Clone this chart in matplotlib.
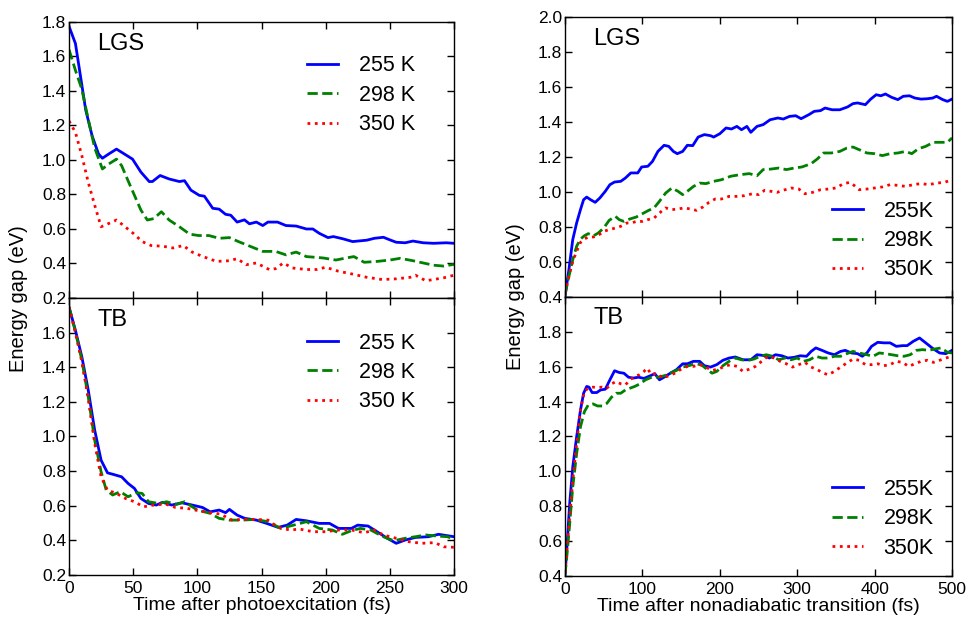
import matplotlib
matplotlib.use("Agg")
import matplotlib.pyplot as plt

plt.rcParams['font.family'] = ['Liberation Sans', 'DejaVu Sans']

# ---- data: left column (time after photoexcitation, fs) ----
labels_left = ["255 K", "298 K", "350 K"]
labels_right = ["255K", "298K", "350K"]

# LGS, left
t_lgs_255 = [0, 5, 13, 18, 23, 26, 31, 37, 42, 49.5, 56, 62.5, 65, 71, 78, 86, 90, 95, 101.5, 105.5,
             112, 117, 122, 126, 131, 136.7, 140.6, 146, 151, 155, 162.5, 169, 177, 185, 190, 195,
             201.8, 206, 213.5, 221, 232, 238, 245, 250, 255, 262, 268, 276, 284, 294, 300]
e_lgs_255 = [1.775, 1.675, 1.29, 1.14, 1.035, 1.01, 1.035, 1.063, 1.04, 1.005, 0.93, 0.875, 0.875,
             0.91, 0.89, 0.875, 0.88, 0.825, 0.795, 0.79, 0.72, 0.715, 0.685, 0.68, 0.64, 0.653, 0.63,
             0.64, 0.62, 0.64, 0.64, 0.62, 0.617, 0.6, 0.6, 0.575, 0.55, 0.556, 0.543, 0.527, 0.535,
             0.546, 0.552, 0.537, 0.523, 0.52, 0.53, 0.52, 0.517, 0.52, 0.517]
t_lgs_298 = [0, 5, 10, 15, 20, 26, 31, 37, 41, 46, 51, 56, 61, 66, 72, 78, 86, 94, 101, 109, 117, 125,
             132, 141, 151, 161, 169, 177, 185, 198, 208, 216, 222, 230, 240, 250, 258, 268, 276, 284,
             292, 300]
e_lgs_298 = [1.64, 1.52, 1.41, 1.235, 1.07, 0.948, 0.977, 1.005, 0.967, 0.88, 0.795, 0.71, 0.652,
             0.66, 0.70, 0.652, 0.613, 0.57, 0.562, 0.562, 0.546, 0.55, 0.527, 0.5, 0.47, 0.47, 0.45,
             0.466, 0.44, 0.432, 0.42, 0.432, 0.44, 0.407, 0.412, 0.42, 0.43, 0.416, 0.403, 0.39,
             0.385, 0.395]
t_lgs_350 = [0, 5, 10, 15, 20, 25, 31, 37, 42, 50, 57, 64, 73, 81, 89, 96, 104, 115, 125, 131, 138,
             146, 156, 161, 167, 174, 185, 193, 200, 210, 220, 232, 244, 255, 266, 270, 278, 284, 292,
             300]
e_lgs_350 = [1.226, 1.16, 1.025, 0.87, 0.738, 0.613, 0.632, 0.652, 0.623, 0.575, 0.527, 0.504, 0.5,
             0.49, 0.504, 0.466, 0.441, 0.412, 0.416, 0.428, 0.393, 0.403, 0.365, 0.37, 0.403, 0.374,
             0.365, 0.365, 0.378, 0.355, 0.34, 0.32, 0.307, 0.311, 0.32, 0.332, 0.30, 0.307, 0.317,
             0.332]

# TB, left
t_tb_255 = [0, 5, 10, 15, 20, 25, 30, 35, 41, 46, 51, 56, 62, 68, 73, 80, 88, 96, 104, 110, 117, 122,
            125, 131, 137, 146, 154, 163, 170, 177, 185, 195, 203, 210, 220, 225, 233, 240, 248, 255,
            262, 270, 280, 288, 300]
e_tb_255 = [1.748, 1.613, 1.46, 1.267, 1.037, 0.863, 0.79, 0.78, 0.767, 0.729, 0.70, 0.642, 0.613,
            0.604, 0.62, 0.604, 0.617, 0.604, 0.59, 0.565, 0.575, 0.56, 0.579, 0.546, 0.527, 0.517,
            0.498, 0.475, 0.488, 0.521, 0.513, 0.498, 0.498, 0.469, 0.469, 0.488, 0.483, 0.45, 0.412,
            0.383, 0.402, 0.417, 0.421, 0.435, 0.421]
t_tb_298 = [0, 5, 10, 15, 20, 25, 29, 34, 40, 46, 53, 57, 62, 70, 76, 84, 90, 100, 110, 117, 125, 135,
            145, 155, 165, 175, 185, 195, 205, 213, 220, 227, 235, 245, 253, 262, 270, 278, 287, 295,
            300]
e_tb_298 = [1.748, 1.604, 1.44, 1.229, 0.979, 0.796, 0.69, 0.662, 0.681, 0.652, 0.675, 0.671, 0.623,
            0.613, 0.623, 0.608, 0.623, 0.575, 0.556, 0.527, 0.517, 0.517, 0.521, 0.508, 0.469, 0.488,
            0.508, 0.469, 0.46, 0.435, 0.456, 0.469, 0.46, 0.421, 0.398, 0.412, 0.421, 0.431, 0.425,
            0.421, 0.406]
t_tb_350 = [0, 5, 10, 15, 20, 25, 30, 37, 44, 51, 58, 66, 75, 83, 92, 101, 110, 118, 127, 135, 145,
            155, 163, 172, 180, 190, 200, 210, 220, 230, 238, 245, 255, 265, 275, 285, 292, 300]
e_tb_350 = [1.748, 1.60, 1.43, 1.22, 0.96, 0.767, 0.69, 0.671, 0.642, 0.623, 0.594, 0.604, 0.61, 0.59,
            0.585, 0.571, 0.56, 0.552, 0.517, 0.521, 0.521, 0.517, 0.475, 0.46, 0.465, 0.45, 0.45,
            0.46, 0.46, 0.444, 0.46, 0.431, 0.412, 0.392, 0.383, 0.387, 0.363, 0.36]

# ---- data: right column (time after nonadiabatic transition, fs) ----
t_lgs2_255 = [0, 5, 10, 15, 20, 24, 28, 33, 39, 45, 52, 58, 64, 72, 78, 85, 94, 99, 107, 113, 120, 128,
              134, 140, 145, 152, 158, 165, 172, 180, 188, 192, 200, 208, 215, 222, 228, 235, 240, 248,
              256, 265, 275, 282, 290, 298, 305, 315, 322, 330, 336, 345, 355, 365, 372, 378, 388, 395,
              402, 408, 414, 422, 430, 437, 445, 452, 460, 468, 475, 480, 488, 494, 500]
e_lgs2_255 = [0.404, 0.556, 0.728, 0.823, 0.90, 0.956, 0.971, 0.956, 0.941, 0.966, 1.004, 1.042, 1.057,
              1.061, 1.08, 1.109, 1.109, 1.143, 1.147, 1.175, 1.232, 1.267, 1.261, 1.232, 1.219, 1.232,
              1.267, 1.265, 1.314, 1.328, 1.322, 1.314, 1.333, 1.366, 1.36, 1.375, 1.356, 1.375, 1.341,
              1.375, 1.385, 1.413, 1.423, 1.417, 1.432, 1.436, 1.419, 1.442, 1.461, 1.465, 1.48, 1.47,
              1.47, 1.486, 1.505, 1.509, 1.499, 1.531, 1.556, 1.55, 1.56, 1.541, 1.528, 1.547, 1.55,
              1.537, 1.531, 1.533, 1.537, 1.547, 1.528, 1.518, 1.531]
t_lgs2_298 = [0, 5, 10, 15, 20, 25, 30, 37, 43, 50, 57, 65, 70, 76, 84, 92, 100, 108, 115, 122, 130,
              138, 146, 152, 158, 166, 174, 182, 192, 202, 214, 226, 238, 248, 256, 266, 276, 286, 296,
              306, 318, 326, 334, 344, 355, 364, 372, 380, 390, 400, 410, 420, 430, 440, 448, 456, 466,
              476, 486, 494, 500]
e_lgs2_298 = [0.413, 0.518, 0.613, 0.69, 0.731, 0.75, 0.762, 0.75, 0.766, 0.794, 0.838, 0.861, 0.842,
              0.832, 0.846, 0.857, 0.876, 0.895, 0.909, 0.947, 0.994, 1.023, 1.004, 0.985, 1.004, 1.032,
              1.051, 1.048, 1.061, 1.07, 1.09, 1.099, 1.105, 1.093, 1.128, 1.131, 1.137, 1.128, 1.137,
              1.143, 1.162, 1.189, 1.223, 1.223, 1.232, 1.251, 1.257, 1.242, 1.223, 1.219, 1.208,
              1.219, 1.223, 1.232, 1.219, 1.246, 1.261, 1.284, 1.284, 1.284, 1.309]
t_lgs2_350 = [0, 5, 10, 15, 20, 25, 30, 37, 44, 50, 57, 65, 72, 80, 86, 92, 100, 107, 115, 122, 130,
              138, 146, 154, 162, 170, 178, 186, 194, 202, 212, 222, 232, 242, 250, 258, 266, 274, 282,
              292, 302, 310, 320, 330, 340, 350, 360, 368, 374, 380, 390, 400, 410, 420, 430, 440, 450,
              460, 470, 480, 490, 500]
e_lgs2_350 = [0.423, 0.518, 0.604, 0.661, 0.712, 0.731, 0.743, 0.743, 0.756, 0.775, 0.785, 0.794,
              0.804, 0.823, 0.823, 0.832, 0.832, 0.842, 0.851, 0.88, 0.909, 0.899, 0.903, 0.909, 0.903,
              0.895, 0.914, 0.941, 0.96, 0.96, 0.975, 0.975, 0.979, 0.99, 0.985, 1.01, 1.004, 0.998,
              1.01, 1.023, 1.017, 0.99, 0.998, 1.013, 1.017, 1.023, 1.048, 1.055, 1.036, 1.013, 1.017,
              1.023, 1.029, 1.042, 1.038, 1.032, 1.042, 1.048, 1.042, 1.051, 1.055, 1.07]

t_tb2_255 = [0, 3, 6, 10, 15, 20, 24, 28, 31, 35, 41, 46, 52, 58, 64, 70, 76, 82, 88, 95, 102, 110,
             116, 122, 128, 136, 144, 152, 158, 166, 174, 180, 188, 196, 204, 212, 220, 230, 240, 248,
             256, 264, 272, 280, 288, 296, 304, 312, 318, 324, 332, 340, 348, 356, 362, 370, 378, 384,
             390, 396, 404, 412, 420, 428, 436, 442, 450, 458, 466, 476, 484, 492, 500]
e_tb2_255 = [0.41, 0.602, 0.813, 1.025, 1.198, 1.352, 1.448, 1.487, 1.483, 1.452, 1.452, 1.467, 1.471,
             1.525, 1.577, 1.567, 1.563, 1.54, 1.535, 1.54, 1.533, 1.548, 1.56, 1.525, 1.54, 1.563,
             1.583, 1.617, 1.617, 1.631, 1.631, 1.606, 1.598, 1.612, 1.637, 1.65, 1.656, 1.64, 1.64,
             1.669, 1.665, 1.65, 1.669, 1.663, 1.65, 1.654, 1.663, 1.66, 1.688, 1.708, 1.694, 1.679,
             1.669, 1.688, 1.694, 1.679, 1.675, 1.66, 1.679, 1.717, 1.74, 1.737, 1.737, 1.717, 1.721,
             1.721, 1.746, 1.765, 1.737, 1.702, 1.679, 1.675, 1.694]
t_tb2_298 = [0, 3, 6, 10, 15, 20, 25, 30, 36, 42, 48, 54, 60, 66, 72, 78, 84, 90, 96, 104, 112, 120,
             128, 136, 144, 152, 160, 168, 176, 184, 190, 196, 204, 212, 220, 228, 236, 244, 252, 260,
             268, 276, 284, 292, 300, 308, 316, 324, 332, 340, 348, 356, 364, 372, 380, 390, 398, 406,
             414, 422, 430, 438, 446, 454, 462, 470, 478, 486, 494, 500]
e_tb2_298 = [0.405, 0.544, 0.698, 0.91, 1.102, 1.256, 1.342, 1.381, 1.387, 1.375, 1.375, 1.39, 1.425,
             1.448, 1.448, 1.467, 1.477, 1.487, 1.5, 1.525, 1.54, 1.54, 1.548, 1.563, 1.579, 1.598,
             1.606, 1.617, 1.612, 1.583, 1.563, 1.573, 1.606, 1.631, 1.65, 1.64, 1.637, 1.644, 1.66,
             1.669, 1.66, 1.64, 1.65, 1.64, 1.65, 1.631, 1.64, 1.66, 1.65, 1.65, 1.66, 1.66, 1.675,
             1.688, 1.679, 1.669, 1.66, 1.679, 1.675, 1.669, 1.663, 1.66, 1.669, 1.694, 1.698, 1.694,
             1.702, 1.708, 1.683, 1.679]
t_tb2_350 = [0, 3, 6, 10, 15, 20, 25, 30, 36, 42, 48, 54, 60, 66, 72, 78, 84, 90, 96, 102, 106, 112,
             118, 126, 134, 142, 150, 158, 166, 174, 182, 190, 198, 206, 214, 222, 230, 238, 246, 254,
             262, 270, 278, 286, 294, 302, 310, 318, 326, 334, 340, 348, 356, 364, 372, 380, 388, 396,
             404, 412, 420, 428, 436, 444, 452, 460, 468, 476, 484, 492, 500]
e_tb2_350 = [0.419, 0.583, 0.737, 0.948, 1.16, 1.352, 1.458, 1.477, 1.483, 1.481, 1.483, 1.477, 1.502,
             1.515, 1.502, 1.496, 1.525, 1.544, 1.554, 1.573, 1.592, 1.554, 1.563, 1.535, 1.548, 1.563,
             1.586, 1.602, 1.602, 1.612, 1.598, 1.579, 1.586, 1.602, 1.612, 1.602, 1.573, 1.586, 1.602,
             1.631, 1.66, 1.65, 1.631, 1.617, 1.598, 1.612, 1.625, 1.598, 1.583, 1.563, 1.554, 1.573,
             1.598, 1.621, 1.644, 1.637, 1.612, 1.612, 1.617, 1.606, 1.612, 1.631, 1.625, 1.602, 1.617,
             1.631, 1.637, 1.625, 1.637, 1.65, 1.66]

colors = ['#0000ff', '#008000', '#ff0000']
styles = ['-', '--', ':']
widths = [2.0, 2.0, 2.0]

fig = plt.figure(figsize=(9.68, 6.19), dpi=100)

# axes boxes in figure fractions
ax_lt = fig.add_axes([0.0713, 0.5186, 0.3977, 0.4459])
ax_lb = fig.add_axes([0.0713, 0.0711, 0.3977, 0.4475])
ax_rt = fig.add_axes([0.5837, 0.5202, 0.3998, 0.4523])
ax_rb = fig.add_axes([0.5837, 0.0695, 0.3998, 0.4507])

panels = [
    (ax_lt, [(t_lgs_255, e_lgs_255), (t_lgs_298, e_lgs_298), (t_lgs_350, e_lgs_350)], labels_left),
    (ax_lb, [(t_tb_255, e_tb_255), (t_tb_298, e_tb_298), (t_tb_350, e_tb_350)], labels_left),
    (ax_rt, [(t_lgs2_255, e_lgs2_255), (t_lgs2_298, e_lgs2_298), (t_lgs2_350, e_lgs2_350)], labels_right),
    (ax_rb, [(t_tb2_255, e_tb2_255), (t_tb2_298, e_tb2_298), (t_tb2_350, e_tb2_350)], labels_right),
]

for ax, series, labs in panels:
    for (t, e), c, ls, lw, lab in zip(series, colors, styles, widths, labs):
        ax.plot(t, e, color=c, linestyle=ls, linewidth=lw, label=lab)
    ax.tick_params(direction='in', top=True, right=True, length=5, width=1, labelsize=12.5)
    ax.tick_params(axis='x', pad=4)
    ax.tick_params(axis='y', pad=2)
    for s in ax.spines.values():
        s.set_linewidth(1.0)

# left column
for ax in (ax_lt, ax_lb):
    ax.set_xlim(0, 300)
    ax.set_ylim(0.2, 1.8)
    ax.set_xticks([0, 50, 100, 150, 200, 250, 300])
    ax.set_yticks([0.2, 0.4, 0.6, 0.8, 1.0, 1.2, 1.4, 1.6, 1.8])
ax_lt.set_xticklabels([])
ax_lb.set_yticklabels(["0.2", "0.4", "0.6", "0.8", "1.0", "1.2", "1.4", "1.6", ""])
ax_lt.set_yticklabels(["0.2", "0.4", "0.6", "0.8", "1.0", "1.2", "1.4", "1.6", "1.8"])

# right column
for ax in (ax_rt, ax_rb):
    ax.set_xlim(0, 500)
    ax.set_ylim(0.4, 2.0)
    ax.set_xticks([0, 100, 200, 300, 400, 500])
    ax.set_yticks([0.4, 0.6, 0.8, 1.0, 1.2, 1.4, 1.6, 1.8, 2.0])
ax_rt.set_xticklabels([])
ax_rt.set_yticklabels(["0.4", "0.6", "0.8", "1.0", "1.2", "1.4", "1.6", "1.8", "2.0"])
ax_rb.set_yticklabels(["0.4", "0.6", "0.8", "1.0", "1.2", "1.4", "1.6", "1.8", ""])

# panel names
ax_lt.text(0.073, 0.92, "LGS", transform=ax_lt.transAxes, fontsize=17, va='center', ha='left')
ax_lb.text(0.073, 0.919, "TB", transform=ax_lb.transAxes, fontsize=17, va='center', ha='left')
ax_rt.text(0.073, 0.92, "LGS", transform=ax_rt.transAxes, fontsize=17, va='center', ha='left')
ax_rb.text(0.073, 0.923, "TB", transform=ax_rb.transAxes, fontsize=17, va='center', ha='left')

leg_kw = dict(frameon=False, fontsize=15.5, handlelength=1.45, handletextpad=0.95,
              labelspacing=0.39, borderpad=0, borderaxespad=0, loc='upper left')
ax_lt.legend(bbox_to_anchor=(0.618, 0.879), **leg_kw)
ax_lb.legend(bbox_to_anchor=(0.618, 0.875), **leg_kw)
ax_rt.legend(bbox_to_anchor=(0.69, 0.344), **leg_kw)
ax_rb.legend(bbox_to_anchor=(0.69, 0.348), **leg_kw)

# axis titles
ax_lb.set_xlabel("Time after photoexcitation (fs)", fontsize=14, labelpad=1)
ax_rb.set_xlabel("Time after nonadiabatic transition (fs)", fontsize=14, labelpad=1)
fig.text(0.019, 0.518, "Energy gap (eV)", rotation=90, fontsize=14.5, ha='center', va='center')
fig.text(0.533, 0.520, "Energy gap (eV)", rotation=90, fontsize=14.5, ha='center', va='center')

fig.savefig("out.png", dpi=100)
